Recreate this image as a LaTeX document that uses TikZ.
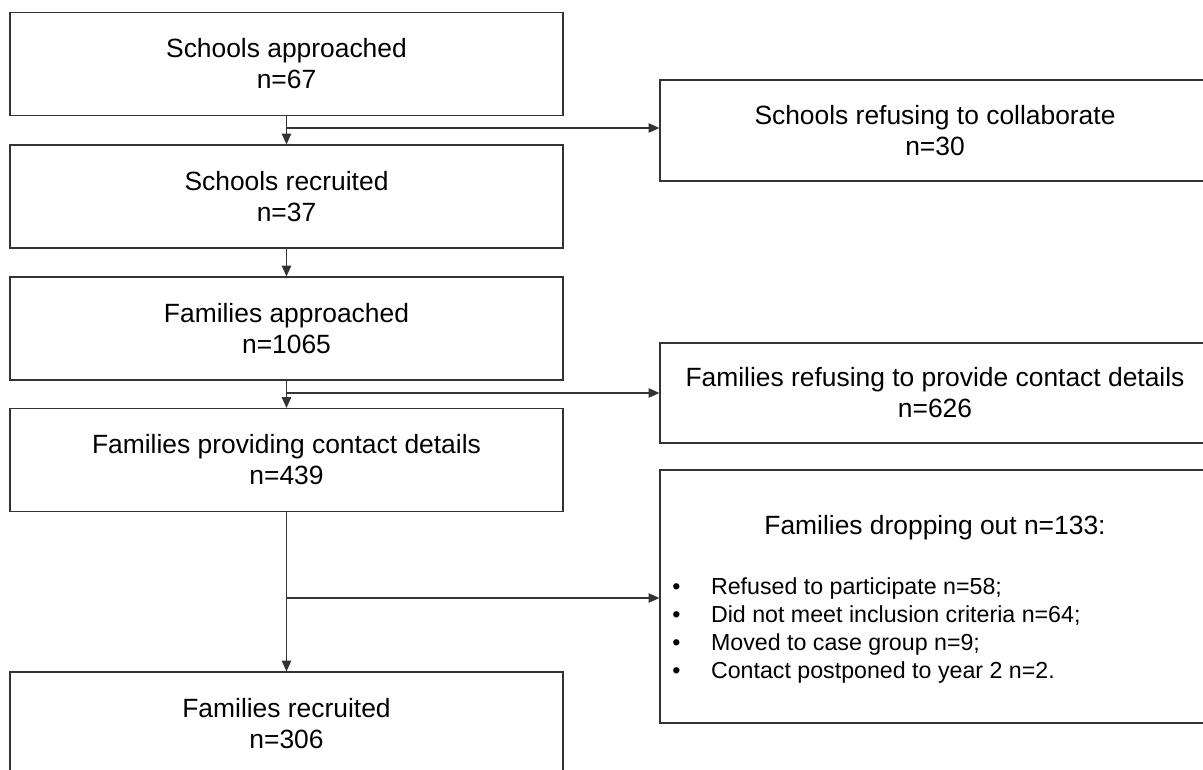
\documentclass[tikz,border=0pt]{standalone}
\usepackage{fontspec}
\setmainfont{Liberation Sans}
\usetikzlibrary{arrows.meta}

\begin{document}
\begin{tikzpicture}
					[x=0.75pt,y=-0.75pt,
					box/.style={rectangle,minimum width=414.75pt,minimum height=77.25pt,inner sep=0pt,align=center,draw=black!80,line width=0.9pt,font=\fontsize{19.8}{23.25}\selectfont},
					side/.style={box,minimum width=412.5pt},
					arr/.style={-{Triangle[length=8pt,width=7pt]},draw=black!80,line width=0.9pt}]
					\useasboundingbox (0,0) rectangle (1203,769);
					\clip (0,0) rectangle (1203,769);
					\node[box] (sa) at (286.5,64) {Schools approached\\n=67};
					\node[box] (sr) at (286.5,196.5) {Schools recruited\\n=37};
					\node[box] (fa) at (286.5,328.5) {Families approached\\n=1065};
					\node[box] (fc) at (286.5,460) {Families providing contact details\\n=439};
					\node[box] (fr) at (286.5,723.5) {Families recruited\\n=306};
					\node[side,minimum height=75.75pt] (sx) at (935,130.5) {Schools refusing to collaborate\\n=30};
					\node[side,minimum height=75pt] (fx) at (935,393) {Families refusing to provide contact details\\n=626};
					\node[side,minimum height=189.75pt] (fd) at (935,596.5) {};
					\node[inner sep=0pt,font=\fontsize{19.8}{23.25}\selectfont] (fdt) at (935,528) {Families dropping out n=133:};
					\node[anchor=west,inner sep=0pt,align=left,font=\fontsize{17.4}{21}\selectfont] (fdl) at (672,630) {\textbullet\hspace{23pt}Refused to participate n=58;\\
						\textbullet\hspace{23pt}Did not meet inclusion criteria n=64;\\
						\textbullet\hspace{23pt}Moved to case group n=9;\\
						\textbullet\hspace{23pt}Contact postponed to year 2 n=2.};
					\coordinate (k1) at (286.5,128);
					\coordinate (k2) at (286.5,393);
					\coordinate (k3) at (286.5,598);
					\path (sa) edge[arr] (sr);
					\path (sr) edge[arr] (fa);
					\path (fa) edge[arr] (fc);
					\path (fc) edge[arr] (fr);
					\path (k1) edge[arr] (k1 -| sx.west);
					\path (k2) edge[arr] (k2 -| fx.west);
					\path (k3) edge[arr] (k3 -| fd.west);
\end{tikzpicture}
\end{document}
